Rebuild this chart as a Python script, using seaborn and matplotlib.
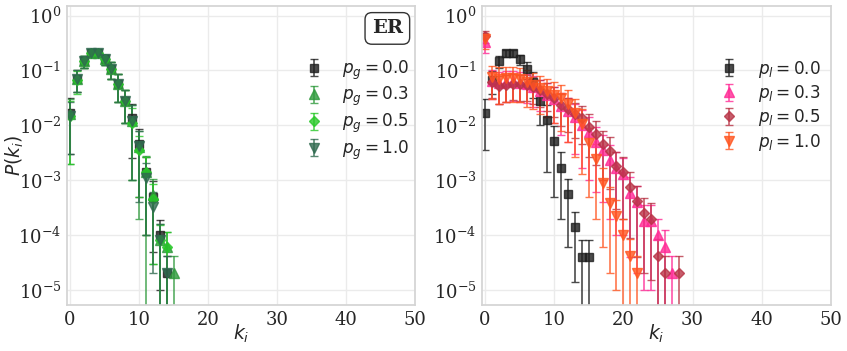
import numpy as np
import matplotlib
matplotlib.use("Agg")
import matplotlib.pyplot as plt
import seaborn as sns

# ---------------- data ----------------
# Left panel (ER), series indexed by degree k = 0, 1, 2, ...
er_labels = [r"$p_g=0.0$", r"$p_g=0.3$", r"$p_g=0.5$", r"$p_g=1.0$"]
er_pg00 = [0.017, 0.07, 0.146, 0.21, 0.21, 0.16, 0.106, 0.057, 0.028, 0.0135, 0.0045, 0.0014, 5.0e-4, 1.0e-4, 2e-5]
er_pg00_err = [0.014, 0.03, 0.035, 0.03, 0.03, 0.035, 0.035, 0.03, 0.017, 0.011, 0.004, 0.0013, 4.5e-4, 9e-5, 2.2e-5]
er_pg03 = [0.016, 0.07, 0.146, 0.21, 0.21, 0.16, 0.106, 0.057, 0.028, 0.012, 0.004, 0.0014, 5.3e-4, 8e-5, 6e-5, 2e-5]
er_pg03_err = [0.014, 0.03, 0.035, 0.03, 0.03, 0.035, 0.035, 0.03, 0.017, 0.011, 0.0038, 0.0014, 5e-4, 8e-5, 5.5e-5, 2.2e-5]
er_pg05 = [0.015, 0.068, 0.146, 0.21, 0.21, 0.16, 0.105, 0.057, 0.028, 0.011, 0.0035, 0.0014, 4.5e-4, 8e-5, 6e-5]
er_pg05_err = [0.013, 0.03, 0.035, 0.03, 0.03, 0.035, 0.035, 0.03, 0.017, 0.01, 0.003, 0.0013, 4.2e-4, 7.5e-5, 5.5e-5]
er_pg10 = [0.015, 0.07, 0.146, 0.21, 0.21, 0.16, 0.106, 0.057, 0.028, 0.012, 0.0042, 0.0011, 3.2e-4, 8e-5, 2e-5]
er_pg10_err = [0.012, 0.03, 0.035, 0.03, 0.03, 0.035, 0.035, 0.03, 0.017, 0.011, 0.0038, 0.001, 3e-4, 8e-5, 2.2e-5]

# Right panel
r_labels = [r"$p_l=0.0$", r"$p_l=0.3$", r"$p_l=0.5$", r"$p_l=1.0$"]
r_pl00 = [0.017, 0.068, 0.146, 0.205, 0.205, 0.16, 0.106, 0.062, 0.028, 0.0124, 0.0051, 0.0017, 5.6e-4, 1.4e-4, 4e-5, 4e-5]
r_pl00_err = [0.0135, 0.03, 0.035, 0.03, 0.03, 0.035, 0.035, 0.03, 0.018, 0.011, 0.0046, 0.0015, 5e-4, 1.26e-4, 4.2e-5, 4.2e-5]
r_pl03 = [0.33, 0.065, 0.060, 0.062, 0.063, 0.060, 0.057, 0.050, 0.043, 0.036, 0.030, 0.0226, 0.018, 0.014,
          0.0102, 0.0075, 0.0049, 0.0036, 0.0023, 0.0017, 0.0013, 5.9e-4, 4e-4, 1.8e-4, 1.8e-4, 1.0e-4, 6e-5, 2e-5]
r_pl03_err = [0.12, 0.035, 0.035, 0.035, 0.035, 0.033, 0.031, 0.028, 0.025, 0.022, 0.019, 0.016, 0.013, 0.011,
              0.0085, 0.0065, 0.0043, 0.0032, 0.0021, 0.0016, 0.0012, 5.5e-4, 3.8e-4, 1.7e-4, 1.7e-4, 1.0e-4, 6.5e-5, 2.2e-5]
r_pl05 = [0.42, 0.062, 0.052, 0.055, 0.057, 0.056, 0.055, 0.050, 0.045, 0.038, 0.032, 0.0236, 0.0195, 0.016,
          0.0135, 0.0095, 0.0069, 0.0045, 0.0034, 0.0018, 0.0014, 7.4e-4, 4.2e-4, 2.5e-4, 2.0e-4, 4.1e-5, 2e-5, np.nan, 2e-5]
r_pl05_err = [0.1, 0.03, 0.027, 0.028, 0.028, 0.028, 0.027, 0.025, 0.023, 0.02, 0.018, 0.014, 0.012, 0.01,
              0.009, 0.0068, 0.005, 0.0035, 0.0027, 0.0015, 0.0012, 6.5e-4, 3.8e-4, 2.3e-4, 1.85e-4, 4.5e-5, 2.2e-5, np.nan, 2.2e-5]
r_pl10 = [0.37, 0.075, 0.070, 0.072, 0.072, 0.070, 0.062, 0.055, 0.048, 0.042, 0.036, 0.031, 0.025, 0.0166,
          0.0105, 0.0048, 0.0024, 8.8e-4, 3.9e-4, 2.2e-4, 1.0e-4, 4.1e-5, 2e-5]
r_pl10_err = [0.12, 0.045, 0.045, 0.045, 0.045, 0.043, 0.04, 0.035, 0.032, 0.028, 0.025, 0.023, 0.02, 0.014,
              0.0092, 0.0043, 0.0022, 8.2e-4, 3.7e-4, 2.1e-4, 1.0e-4, 4.5e-5, 2.2e-5]

x_ticks = [0, 10, 20, 30, 40, 50]

# ---------------- style ----------------
sns.set_theme(style="whitegrid")
plt.rcParams["font.family"] = ["DejaVu Sans"]
plt.rcParams["axes.edgecolor"] = "#d4d4d4"
plt.rcParams["grid.color"] = "#ebebeb"

fig = plt.figure(figsize=(8.47, 3.51), dpi=100)
axL = fig.add_axes([0.079, 0.131, 0.411, 0.852])
axR = fig.add_axes([0.569, 0.131, 0.412, 0.852])

left_series = [
    (er_pg00, er_pg00_err, "s", "#1e1e1e", 5.5),
    (er_pg03, er_pg03_err, "^", "#2e9a3c", 6.5),
    (er_pg05, er_pg05_err, "D", "#28c828", 5.5),
    (er_pg10, er_pg10_err, "v", "#2f6a4f", 6.5),
]
right_series = [
    (r_pl00, r_pl00_err, "s", "#1e1e1e", 5.5),
    (r_pl03, r_pl03_err, "^", "#ff2a95", 6.5),
    (r_pl05, r_pl05_err, "D", "#b83446", 5.5),
    (r_pl10, r_pl10_err, "v", "#ff5520", 6.5),
]


def draw(ax, series, labels):
    for (vals, errs, mk, col, ms), lab in zip(series, labels):
        k = np.arange(len(vals))
        ax.errorbar(k, vals, yerr=errs, fmt=mk, color=col, ms=ms, alpha=0.8,
                    elinewidth=1.2, capsize=3, capthick=1.0, label=lab,
                    markeredgewidth=1.0)
    ax.set_yscale("log")
    ax.set_xlim(-0.45, 50)
    ax.set_ylim(5.3e-6, 1.5)
    ax.set_xticks(x_ticks)
    ax.set_yticks([1e0, 1e-1, 1e-2, 1e-3, 1e-4, 1e-5])
    ax.tick_params(labelfontfamily="serif", labelsize=13, length=0, pad=4)
    ax.set_xlabel(r"$k_i$", fontsize=13.5, labelpad=-4)
    ax.grid(True, which="major")
    ax.legend(loc="upper left", bbox_to_anchor=(0.631, 0.875), frameon=False,
              fontsize=12.2, labelspacing=0.2, handletextpad=1.0, handlelength=1.4)


draw(axL, left_series, er_labels)
draw(axR, right_series, r_labels)
axL.set_ylabel(r"$P(k_i)$", fontsize=13.5)
axL.yaxis.set_label_coords(-0.118, 0.5)

axL.text(0.965, 0.955, "ER", transform=axL.transAxes, ha="right", va="top",
         fontsize=14, fontweight="bold", family="serif",
         bbox=dict(boxstyle="round,pad=0.35", facecolor="white", edgecolor="#333333", linewidth=1.0))

fig.savefig("out.png", dpi=100)
